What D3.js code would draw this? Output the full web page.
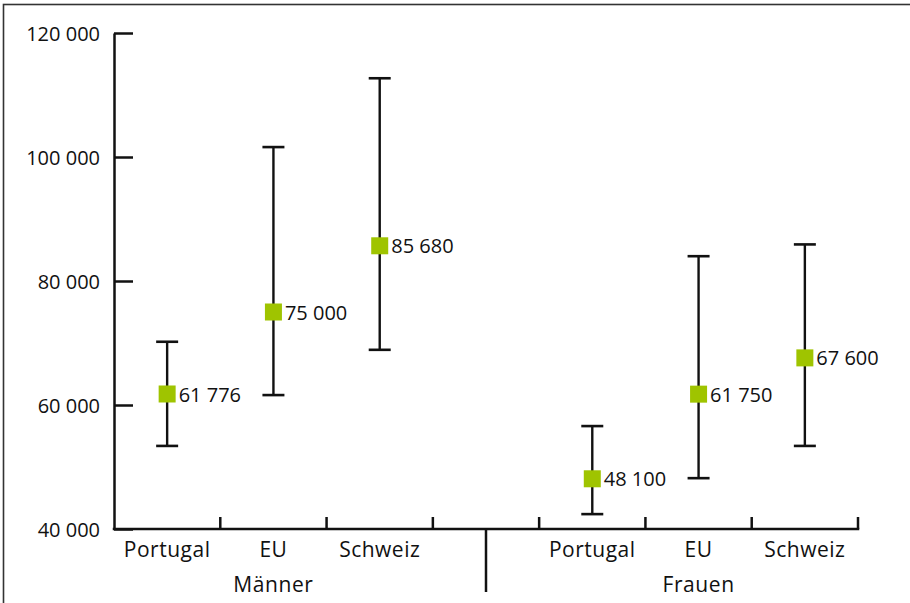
<!DOCTYPE html>
<html>
<head>
<meta charset="utf-8">
<script src="https://cdn.jsdelivr.net/npm/d3@7"></script>
<style>
  html, body { margin: 0; padding: 0; background: #fff; }
  svg { display: block; }
  text { font-family: "Open Sans", "Noto Sans", sans-serif; fill: #111; }
</style>
</head>
<body>
<svg id="chart" width="910" height="603"></svg>
<script>
// ---- data ----
const groups = ["Männer", "Frauen"];
const slots = ["M-Portugal", "M-EU", "M-Schweiz", "gap", "F-Portugal", "F-EU", "F-Schweiz"];
const categories = ["Portugal", "EU", "Schweiz", "Portugal", "EU", "Schweiz"];
const categorySlots = ["M-Portugal", "M-EU", "M-Schweiz", "F-Portugal", "F-EU", "F-Schweiz"];
const groupCenterSlots = ["M-EU", "F-EU"];
const medians = [61776, 75000, 85680, 48100, 61750, 67600];
const lows = [53400, 61600, 68900, 42400, 48200, 53400];
const highs = [70200, 101600, 112700, 56600, 84000, 85900];
const yTicks = [40000, 60000, 80000, 100000, 120000];

// ---- layout ----
const svg = d3.select("#chart");
const x0 = 114, x1 = 858, yTop = 33, yBottom = 529;
const x = d3.scaleBand().domain(slots).range([x0, x1]).padding(0);
const y = d3.scaleLinear().domain([40000, 120000]).range([yBottom, yTop]);
const loc = d3.formatLocale({ decimal: ",", thousands: " ", grouping: [3], currency: ["", ""] });
const fmt = loc.format(",d");

const ink = "#111";
const green = "#9fc400";

// frame
svg.append("rect")
  .attr("x", 3.5).attr("y", 4.5).attr("width", 1000).attr("height", 1000)
  .attr("fill", "none").attr("stroke", "#333").attr("stroke-width", 1.6);

// y axis
const yAxis = d3.axisLeft(y).tickValues(yTicks).tickFormat(fmt)
  .tickSizeInner(-19).tickSizeOuter(0).tickPadding(14);
const gy = svg.append("g").attr("transform", `translate(${x0},0)`).call(yAxis);
gy.selectAll("path, line").attr("stroke", ink).attr("stroke-width", 2.5);
gy.selectAll("text").attr("font-size", 20).attr("fill", ink)
  .attr("font-family", "\"Open Sans\", sans-serif").attr("dy", "0.38em");

// x axis line
svg.append("line").attr("x1", x0 - 1.25).attr("x2", x1 + 1.25)
  .attr("y1", yBottom).attr("y2", yBottom)
  .attr("stroke", ink).attr("stroke-width", 2.5);
// x ticks at slot boundaries
svg.append("g").selectAll("line").data(slots).join("line")
  .attr("x1", d => x(d) + x.bandwidth()).attr("x2", d => x(d) + x.bandwidth())
  .attr("y1", yBottom).attr("y2", yBottom - 12)
  .attr("stroke", ink).attr("stroke-width", 2.5);
// separator
svg.append("line")
  .attr("x1", x("gap") + x.bandwidth() / 2).attr("x2", x("gap") + x.bandwidth() / 2)
  .attr("y1", yBottom).attr("y2", 592)
  .attr("stroke", ink).attr("stroke-width", 2.5);

// category labels
svg.append("g").selectAll("text").data(categories).join("text")
  .attr("x", (d, i) => x(categorySlots[i]) + x.bandwidth() / 2)
  .attr("y", 557).attr("text-anchor", "middle").attr("font-size", 21)
  .attr("letter-spacing", 0.5)
  .text(d => d);
// group labels
svg.append("g").selectAll("text").data(groups).join("text")
  .attr("x", (d, i) => x(groupCenterSlots[i]) + x.bandwidth() / 2)
  .attr("y", 592).attr("text-anchor", "middle").attr("font-size", 21)
  .attr("letter-spacing", 0.6)
  .text(d => d);

// error bars
const cx = i => x(categorySlots[i]) + x.bandwidth() / 2;
const g = svg.append("g");
const capW = 22;
g.selectAll("line.whisker").data(medians).join("line").attr("class", "whisker")
  .attr("x1", (d, i) => cx(i)).attr("x2", (d, i) => cx(i))
  .attr("y1", (d, i) => y(highs[i])).attr("y2", (d, i) => y(lows[i]))
  .attr("stroke", ink).attr("stroke-width", 2.4);
g.selectAll("line.capH").data(highs).join("line").attr("class", "capH")
  .attr("x1", (d, i) => cx(i) - capW / 2).attr("x2", (d, i) => cx(i) + capW / 2)
  .attr("y1", d => y(d)).attr("y2", d => y(d))
  .attr("stroke", ink).attr("stroke-width", 2.6);
g.selectAll("line.capL").data(lows).join("line").attr("class", "capL")
  .attr("x1", (d, i) => cx(i) - capW / 2).attr("x2", (d, i) => cx(i) + capW / 2)
  .attr("y1", d => y(d)).attr("y2", d => y(d))
  .attr("stroke", ink).attr("stroke-width", 2.6);

const m = 17;
g.selectAll("rect.marker").data(medians).join("rect").attr("class", "marker")
  .attr("x", (d, i) => cx(i) - m / 2).attr("y", d => y(d) - m / 2)
  .attr("width", m).attr("height", m).attr("fill", green);
g.selectAll("text.val").data(medians).join("text").attr("class", "val")
  .attr("x", (d, i) => cx(i) + m / 2 + 3).attr("y", d => y(d))
  .attr("dy", "0.38em").attr("font-size", 20)
  .text(d => fmt(d));
</script>
</body>
</html>
